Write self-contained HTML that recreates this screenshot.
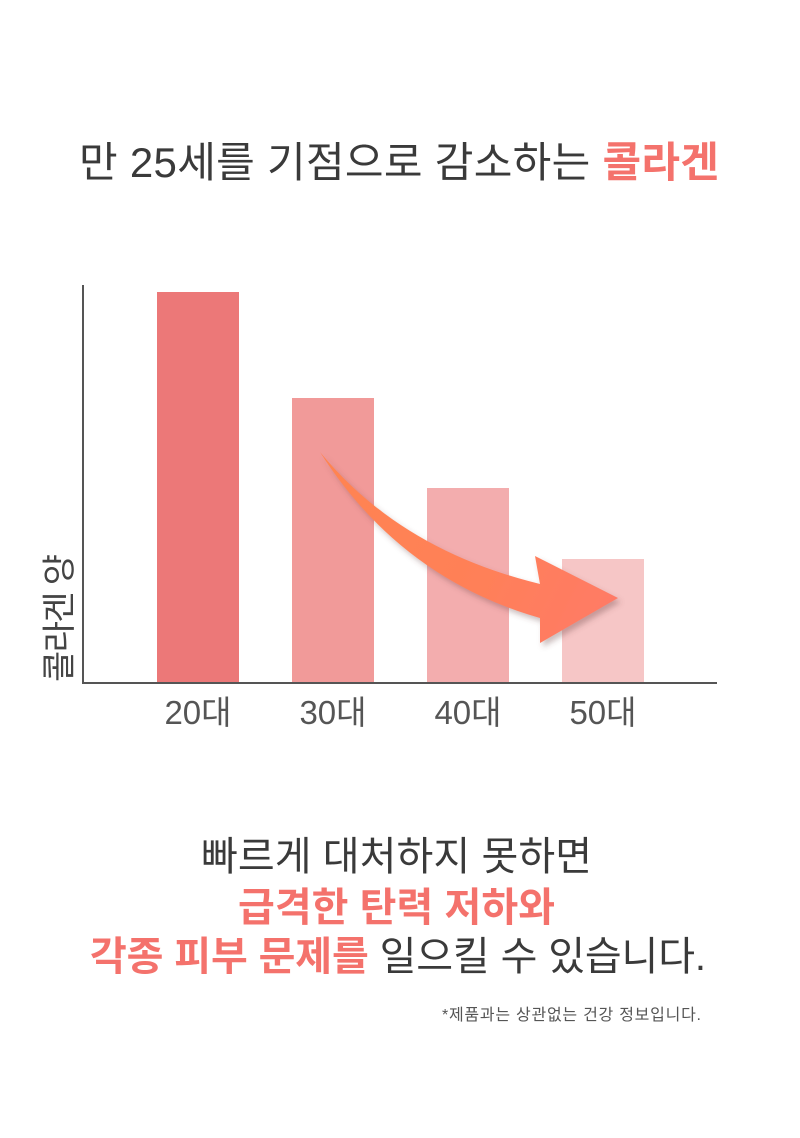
<!DOCTYPE html>
<html>
<head>
<meta charset="utf-8">
<style>
  html, body { margin:0; padding:0; background:#ffffff; }
  body { width:800px; height:1138px; overflow:hidden; }
  svg { display:block; }
  text { font-family: "Liberation Sans", "Noto Sans CJK KR", "NanumGothic", sans-serif; }
</style>
</head>
<body>
<svg width="800" height="1138" viewBox="0 0 800 1138" xmlns="http://www.w3.org/2000/svg">
  <defs>
    <linearGradient id="ag" x1="320" y1="452" x2="618" y2="598" gradientUnits="userSpaceOnUse">
      <stop offset="0" stop-color="#FF8450"/>
      <stop offset="0.6" stop-color="#FF8058"/>
      <stop offset="1" stop-color="#FF7A66"/>
    </linearGradient>
    <filter id="sh" x="-20%" y="-20%" width="140%" height="140%">
      <feDropShadow dx="3" dy="4" stdDeviation="3" flood-color="#6a4040" flood-opacity="0.35"/>
    </filter>
  </defs>

  <!-- Title -->
  <text x="79" y="177" font-size="42" fill="#3a3a3a" textLength="640" lengthAdjust="spacing">만 25세를 기점으로 감소하는 <tspan fill="#F4726C" font-weight="bold">콜라겐</tspan></text>

  <!-- Bars -->
  <rect x="157" y="292" width="82" height="391" fill="#EC7878"/>
  <rect x="292" y="398" width="82" height="285" fill="#F19A99"/>
  <rect x="427" y="488" width="82" height="195" fill="#F3ADAE"/>
  <rect x="562" y="559" width="82" height="124" fill="#F6C6C6"/>

  <!-- Axes -->
  <line x1="83" y1="285" x2="83" y2="684" stroke="#555" stroke-width="2"/>
  <line x1="82" y1="683" x2="717" y2="683" stroke="#555" stroke-width="2"/>

  <!-- Arrow -->
  <path filter="url(#sh)" fill="url(#ag)"
        d="M320,452 Q400,550 540,584 L535,556 L618,598 L540,643 L540,618 Q400,578 320,452 Z"/>

  <!-- Y label -->
  <text transform="translate(71,682) rotate(-90)" font-size="34" fill="#444" textLength="128" lengthAdjust="spacing">콜라겐 양</text>

  <!-- X labels -->
  <text x="198" y="724" font-size="33" fill="#555" text-anchor="middle">20대</text>
  <text x="333" y="724" font-size="33" fill="#555" text-anchor="middle">30대</text>
  <text x="468" y="724" font-size="33" fill="#555" text-anchor="middle">40대</text>
  <text x="603" y="724" font-size="33" fill="#555" text-anchor="middle">50대</text>

  <!-- Bottom text -->
  <text x="201" y="870" font-size="40" fill="#3a3a3a" textLength="391" lengthAdjust="spacing">빠르게 대처하지 못하면</text>
  <text x="238" y="921" font-size="40" fill="#F4726C" font-weight="bold" textLength="317" lengthAdjust="spacing">급격한 탄력 저하와</text>
  <text x="90" y="970" font-size="40" fill="#3a3a3a" textLength="616" lengthAdjust="spacing"><tspan fill="#F4726C" font-weight="bold">각종 피부 문제를</tspan> 일으킬 수 있습니다.</text>

  <!-- Footnote -->
  <text x="442" y="1020" font-size="16" fill="#555" textLength="259" lengthAdjust="spacing">*제품과는 상관없는 건강 정보입니다.</text>
</svg>
</body>
</html>
